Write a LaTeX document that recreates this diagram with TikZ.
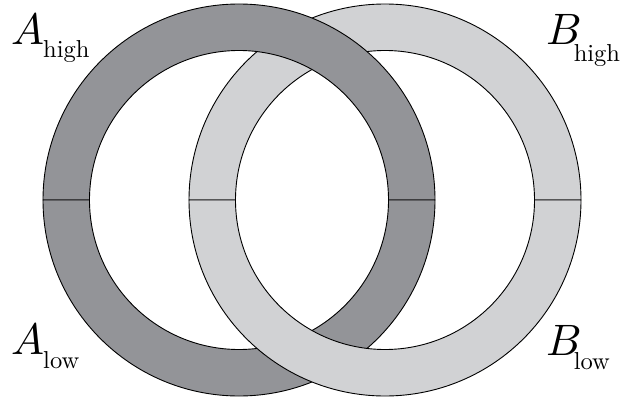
\documentclass[tikz,border=0pt]{standalone}
\begin{document}
\begin{tikzpicture}[x=1pt,y=1pt,
  ringA/.style={fill={rgb,255:red,147;green,148;blue,152},draw=black,line width=0.9pt},
  ringB/.style={fill={rgb,255:red,209;green,210;blue,212},draw=black,line width=0.9pt},
  lbl/.style={anchor=base west,inner sep=0pt}]
\useasboundingbox (0,0) rectangle (639,405);
\coordinate (ca) at (239,205);
\coordinate (cb) at (385,205);
% B upper half
\path[ringB] ([shift={(196,0)}]cb) arc[start angle=0,end angle=180,radius=196]
  -- ([shift={(-149.5,0)}]cb) arc[start angle=180,end angle=0,radius=149.5] -- cycle;
% A upper half
\path[ringA] ([shift={(196,0)}]ca) arc[start angle=0,end angle=180,radius=196]
  -- ([shift={(-149.5,0)}]ca) arc[start angle=180,end angle=0,radius=149.5] -- cycle;
% A lower half
\path[ringA] ([shift={(196,0)}]ca) arc[start angle=0,end angle=-180,radius=196]
  -- ([shift={(-149.5,0)}]ca) arc[start angle=-180,end angle=0,radius=149.5] -- cycle;
% B lower half
\path[ringB] ([shift={(196,0)}]cb) arc[start angle=0,end angle=-180,radius=196]
  -- ([shift={(-149.5,0)}]cb) arc[start angle=-180,end angle=0,radius=149.5] -- cycle;
% labels
\node[lbl] (ah) at (11,360) {\scalebox{4.4}{$A$}\kern-1pt\raisebox{-13pt}{\scalebox{2.45}{high}}};
\node[lbl] (al) at (11,51) {\scalebox{4.4}{$A$}\kern-1pt\raisebox{-14pt}{\scalebox{2.45}{low}}};
\node[lbl] (bh) at (546,360) {\scalebox{4.4}{$B$}\kern-8pt\raisebox{-17pt}{\scalebox{2.45}{high}}};
\node[lbl] (bl) at (546,50) {\scalebox{4.4}{$B$}\kern-8pt\raisebox{-14pt}{\scalebox{2.45}{low}}};
\end{tikzpicture}
\end{document}
